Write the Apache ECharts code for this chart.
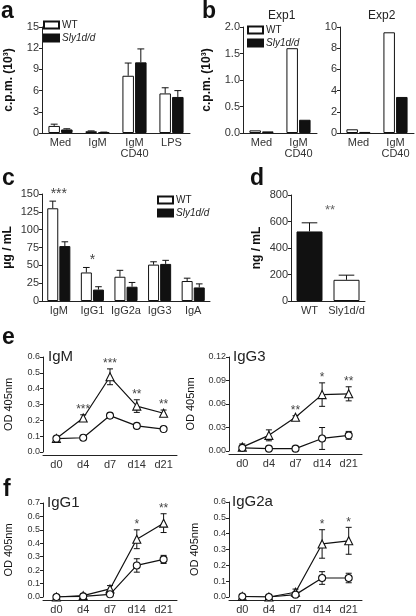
<!DOCTYPE html>
<html><head><meta charset="utf-8">
<script src="https://cdn.jsdelivr.net/npm/echarts@6/dist/echarts.min.js"></script>
<style>html,body{margin:0;padding:0;background:#fff}#c{width:416px;height:616px}</style>
</head><body><div id="c"></div>
<script>
// ---------- data ----------
// panel a
const aCats = ['Med', 'IgM', 'IgM\nCD40', 'LPS'];
const aWT = [1.0, 0.25, 8.1, 5.6];
const aWTErr = [0.25, 0.05, 1.8, 0.8];
const aKO = [0.5, 0.1, 10.0, 5.1];
const aKOErr = [0.1, 0.03, 1.9, 0.9];
const aTicks = [0, 3, 6, 9, 12, 15];
// panel b
const bCats = ['Med', 'IgM\nCD40'];
const b1WT = [0.05, 1.6];
const b1KO = [0.03, 0.25];
const b1Ticks = [0, 0.5, 1.0, 1.5, 2.0];
const b2WT = [0.35, 9.5];
const b2KO = [0.1, 3.4];
const b2Ticks = [0, 2, 4, 6, 8, 10];
// panel c
const cCats = ['IgM', 'IgG1', 'IgG2a', 'IgG3', 'IgA'];
const cWT = [130, 40, 34, 51, 28];
const cWTErr = [10, 7, 9, 4, 4];
const cKO = [77, 16, 20, 52, 19];
const cKOErr = [6, 4, 6, 5, 5];
const cStars = ['***', '*', '', '', ''];
const cTicks = [0, 25, 50, 75, 100, 125, 150];
// panel d
const dCats = ['WT', 'Sly1d/d'];
const dVal = [525, 160];
const dErr = [65, 35];
const dStar = '**';
const dStarLevel = 680;
const dTicks = [0, 200, 400, 600, 800];
// panels e/f
const days = ['d0', 'd4', 'd7', 'd14', 'd21'];
const igmTri = [0.085, 0.215, 0.475, 0.29, 0.245];
const igmTriErr = [0.006, 0.02, 0.05, 0.04, 0.02];
const igmCir = [0.085, 0.09, 0.23, 0.165, 0.145];
const igmCirErr = [0.005, 0.004, 0.015, 0.006, 0.006];
const igmStars = ['', '***', '***', '**', '**'];
const igmTicks = [0, 0.1, 0.2, 0.3, 0.4, 0.5, 0.6];
const igg3Tri = [0.005, 0.02, 0.043, 0.072, 0.073];
const igg3TriErr = [0.004, 0.007, 0.002, 0.015, 0.009];
const igg3Cir = [0.004, 0.003, 0.003, 0.016, 0.02];
const igg3CirErr = [0.002, 0.001, 0.001, 0.014, 0.005];
const igg3Stars = ['', '', '**', '*', '**'];
const igg3Ticks = [0, 0.03, 0.06, 0.09, 0.12];
const igg1Tri = [0.0, 0.01, 0.06, 0.43, 0.55];
const igg1TriErr = [0.003, 0.005, 0.025, 0.07, 0.07];
const igg1Cir = [0.0, 0.005, 0.02, 0.235, 0.28];
const igg1CirErr = [0.002, 0.003, 0.01, 0.05, 0.03];
const igg1Stars = ['', '', '', '*', '**'];
const igg1Ticks = [0, 0.1, 0.2, 0.3, 0.4, 0.5, 0.6, 0.7];
const igg2aTri = [0.003, 0.0, 0.03, 0.335, 0.355];
const igg2aTriErr = [0.003, 0.002, 0.02, 0.09, 0.085];
const igg2aCir = [0.003, 0.0, 0.015, 0.12, 0.12];
const igg2aCirErr = [0.002, 0.002, 0.008, 0.04, 0.03];
const igg2aStars = ['', '', '', '*', '*'];
const igg2aTicks = [0, 0.1, 0.2, 0.3, 0.4, 0.5, 0.6];

// ---------- style ----------
const AX = '#222';
const TXT = '#333';
const BLK = '#111';
const FONT = '"Liberation Sans", Arial, sans-serif';

const grids = [
  {left: 42, top: 27, width: 148, height: 106},   // 0 a
  {left: 243, top: 27, width: 74, height: 106},   // 1 b Exp1
  {left: 340, top: 27, width: 74, height: 106},   // 2 b Exp2
  {left: 42, top: 194, width: 168, height: 107},  // 3 c
  {left: 291, top: 195, width: 74, height: 106},  // 4 d
  {left: 43, top: 357, width: 134, height: 95},   // 5 e IgM
  {left: 229, top: 357, width: 133, height: 94},  // 6 e IgG3
  {left: 43, top: 503, width: 134, height: 94},   // 7 f IgG1
  {left: 229, top: 502, width: 133, height: 95}   // 8 f IgG2a
];

function catX(gi, data, fs, extra) {
  return Object.assign({
    type: 'category', gridIndex: gi, data: data, boundaryGap: true,
    axisLine: {lineStyle: {color: AX, width: 1}},
    axisTick: {alignWithLabel: true, length: 3, lineStyle: {color: AX}},
    axisLabel: {color: TXT, fontSize: fs, fontFamily: FONT, margin: 4, lineHeight: 11, interval: 0}
  }, extra || {});
}
function valY(gi, ticks, dec, name, nameGap, nameStyle, fs) {
  return {
    type: 'value', gridIndex: gi, min: ticks[0], max: ticks[ticks.length - 1],
    interval: ticks[1] - ticks[0], splitLine: {show: false},
    axisLine: {show: true, lineStyle: {color: AX}},
    axisTick: {show: true, length: 3, lineStyle: {color: AX}},
    axisLabel: {color: TXT, fontSize: fs, fontFamily: FONT, margin: 3,
      formatter: v => v.toFixed(dec)},
    name: name, nameLocation: 'middle', nameGap: nameGap, nameRotate: 90,
    nameTextStyle: Object.assign({color: '#111', fontFamily: FONT}, nameStyle)
  };
}

function barSeries(name, gi, vals, filled, W) {
  return {
    type: 'bar', name: name, xAxisIndex: gi, yAxisIndex: gi, data: vals,
    barWidth: W, barGap: '10%',
    itemStyle: filled ? {color: BLK, borderColor: BLK, borderWidth: 1}
                      : {color: '#fff', borderColor: BLK, borderWidth: 1},
    z: 3
  };
}
function barErr(gi, vals, errs, sign, W, gap) {
  return {
    type: 'custom', xAxisIndex: gi, yAxisIndex: gi, silent: true, z: 4,
    data: vals.map((v, i) => [i, v, v + errs[i]]),
    renderItem: function (params, api) {
      const c0 = api.coord([api.value(0), api.value(1)]);
      const c1 = api.coord([api.value(0), api.value(2)]);
      const x = c0[0] + sign * W * (1 + gap) / 2;
      const cap = W * 0.3;
      return {type: 'group', children: [
        {type: 'line', shape: {x1: x, y1: c0[1], x2: x, y2: c1[1]}, style: {stroke: BLK, lineWidth: 1}},
        {type: 'line', shape: {x1: x - cap, y1: c1[1], x2: x + cap, y2: c1[1]}, style: {stroke: BLK, lineWidth: 1}}
      ]};
    }
  };
}
function lineErr(gi, vals, errs) {
  return {
    type: 'custom', xAxisIndex: gi, yAxisIndex: gi, silent: true, z: 2,
    data: vals.map((v, i) => [i, v - errs[i], v + errs[i]]),
    renderItem: function (params, api) {
      const lo = api.coord([api.value(0), api.value(1)]);
      const hi = api.coord([api.value(0), api.value(2)]);
      const x = lo[0], cap = 3;
      return {type: 'group', children: [
        {type: 'line', shape: {x1: x, y1: lo[1], x2: x, y2: hi[1]}, style: {stroke: BLK, lineWidth: 1}},
        {type: 'line', shape: {x1: x - cap, y1: lo[1], x2: x + cap, y2: lo[1]}, style: {stroke: BLK, lineWidth: 1}},
        {type: 'line', shape: {x1: x - cap, y1: hi[1], x2: x + cap, y2: hi[1]}, style: {stroke: BLK, lineWidth: 1}}
      ]};
    }
  };
}
function starSeries(gi, tops, labels, dy, fs) {
  return {
    type: 'custom', xAxisIndex: gi, yAxisIndex: gi, silent: true, z: 6,
    data: tops.map((t, i) => [i, t]),
    renderItem: function (params, api) {
      const lab = labels[params.dataIndex];
      if (!lab) return null;
      const p = api.coord([api.value(0), api.value(1)]);
      return {type: 'text', x: p[0], y: p[1] - dy,
        style: {text: lab, fill: '#444', font: fs + 'px ' + FONT, align: 'center', verticalAlign: 'middle'}};
    }
  };
}
function lineSeries(name, gi, vals, sym) {
  return {
    type: 'line', name: name, xAxisIndex: gi, yAxisIndex: gi, data: vals,
    symbol: sym, symbolSize: sym === 'triangle' ? 8 : 7, showSymbol: true,
    lineStyle: {color: BLK, width: 1.2},
    itemStyle: {color: '#fff', borderColor: BLK, borderWidth: 1.1},
    z: 3
  };
}
const sum = (a, b) => a.map((v, i) => v + b[i]);

const xAxes = [
  catX(0, aCats, 11), catX(1, bCats, 11), catX(2, bCats, 11), catX(3, cCats, 11),
  catX(4, dCats, 11)
];
const lineX = gi => catX(gi, days, 11, {
  offset: 3, axisLine: {onZero: false, lineStyle: {color: AX}},
  axisTick: {alignWithLabel: false, length: 4, lineStyle: {color: AX}}
});
[5, 6, 7, 8].forEach(g => xAxes.push(lineX(g)));

const boldName = {fontWeight: 'bold', fontSize: 12};
const odName = {fontSize: 11};
const yAxes = [
  valY(0, aTicks, 0, 'c.p.m. (10³)', 27, boldName, 11),
  valY(1, b1Ticks, 1, 'c.p.m. (10³)', 30, boldName, 11),
  valY(2, b2Ticks, 0, '', 20, boldName, 11),
  valY(3, cTicks, 0, 'μg / mL', 28, boldName, 11),
  valY(4, dTicks, 0, 'ng / mL', 28, boldName, 11),
  valY(5, igmTicks, 1, 'OD 405nm', 29, odName, 9),
  valY(6, igg3Ticks, 2, 'OD 405nm', 33, odName, 9),
  valY(7, igg1Ticks, 1, 'OD 405nm', 29, odName, 9),
  valY(8, igg2aTicks, 1, 'OD 405nm', 29, odName, 9)
];

const series = [];
// a
series.push(barSeries('WT', 0, aWT, false, 11.5), barSeries('Sly1d/d', 0, aKO, true, 11.5));
series.push(barErr(0, aWT, aWTErr, -1, 11.5, 0.1), barErr(0, aKO, aKOErr, 1, 11.5, 0.1));
// b
series.push(barSeries('WT', 1, b1WT, false, 11.5), barSeries('Sly1d/d', 1, b1KO, true, 11.5));
series.push(barSeries('WT', 2, b2WT, false, 11.5), barSeries('Sly1d/d', 2, b2KO, true, 11.5));
// c
series.push(barSeries('WT', 3, cWT, false, 11), barSeries('Sly1d/d', 3, cKO, true, 11));
series.push(barErr(3, cWT, cWTErr, -1, 11, 0.1), barErr(3, cKO, cKOErr, 1, 11, 0.1));
series.push(starSeries(3, sum(cWT, cWTErr), cStars, 7, 14));
// d
series.push({
  type: 'bar', name: 'd', xAxisIndex: 4, yAxisIndex: 4, barWidth: 26, z: 3,
  data: dVal.map((v, i) => ({value: v, itemStyle: i === 0
    ? {color: BLK, borderColor: BLK, borderWidth: 1}
    : {color: '#fff', borderColor: BLK, borderWidth: 1}}))
});
series.push(barErr(4, dVal, dErr, 0, 26, 0));
series.push({
  type: 'custom', xAxisIndex: 4, yAxisIndex: 4, silent: true, z: 6,
  data: [[0, dStarLevel]],
  renderItem: function (params, api) {
    const p0 = api.coord([0, api.value(1)]);
    const p1 = api.coord([1, api.value(1)]);
    return {type: 'text', x: (p0[0] + p1[0]) / 2 + 2, y: p0[1],
      style: {text: dStar, fill: '#666', font: '13px ' + FONT, align: 'center', verticalAlign: 'middle'}};
  }
});
// e / f
const lineSets = [
  [5, igmTri, igmTriErr, igmCir, igmCirErr, igmStars],
  [6, igg3Tri, igg3TriErr, igg3Cir, igg3CirErr, igg3Stars],
  [7, igg1Tri, igg1TriErr, igg1Cir, igg1CirErr, igg1Stars],
  [8, igg2aTri, igg2aTriErr, igg2aCir, igg2aCirErr, igg2aStars]
];
lineSets.forEach(([g, tri, triE, cir, cirE, st]) => {
  series.push(lineErr(g, tri, triE), lineErr(g, cir, cirE));
  series.push(lineSeries('tri', g, tri, 'triangle'), lineSeries('cir', g, cir, 'circle'));
  series.push(starSeries(g, sum(tri, triE), st, 5, 12));
});

const legendBase = {
  orient: 'vertical', data: ['WT', 'Sly1d/d'], itemWidth: 15, itemHeight: 7, itemGap: 3,
  icon: 'rect', selectedMode: false, padding: 0,
  textStyle: {fontSize: 10, fontFamily: FONT, color: '#222', padding: [0, 0, 0, -2],
    rich: {i: {fontStyle: 'italic', fontSize: 10, fontFamily: FONT, color: '#222'}}},
  formatter: n => n === 'WT' ? 'WT' : '{i|Sly1d/d}'
};
const legends = [
  Object.assign({}, legendBase, {left: 43, top: 20}),
  Object.assign({}, legendBase, {left: 247, top: 25}),
  Object.assign({}, legendBase, {left: 157, top: 195})
];

const letter = (t, x, y) => ({type: 'text', left: x, top: y,
  style: {text: t, font: 'bold 23px ' + FONT, fill: '#111'}});
const ptitle = (t, x, y, fs) => ({type: 'text', left: x, top: y,
  style: {text: t, font: fs + 'px ' + FONT, fill: '#222'}});

const option = {
  animation: false,
  backgroundColor: '#fff',
  grid: grids,
  xAxis: xAxes,
  yAxis: yAxes,
  legend: legends,
  series: series,
  graphic: [
    letter('a', 1, 0), letter('b', 202, 0), letter('c', 2, 167), letter('d', 250, 167),
    letter('e', 2, 326), letter('f', 3, 478),
    ptitle('Exp1', 268, 10, 12), ptitle('Exp2', 368, 10, 12),
    ptitle('IgM', 48, 349, 15), ptitle('IgG3', 233, 349, 15),
    ptitle('IgG1', 47, 495, 15), ptitle('IgG2a', 232, 494, 15)
  ]
};
const chart = echarts.init(document.getElementById('c'), null, {renderer: 'canvas'});
chart.setOption(option);
</script></body></html>
